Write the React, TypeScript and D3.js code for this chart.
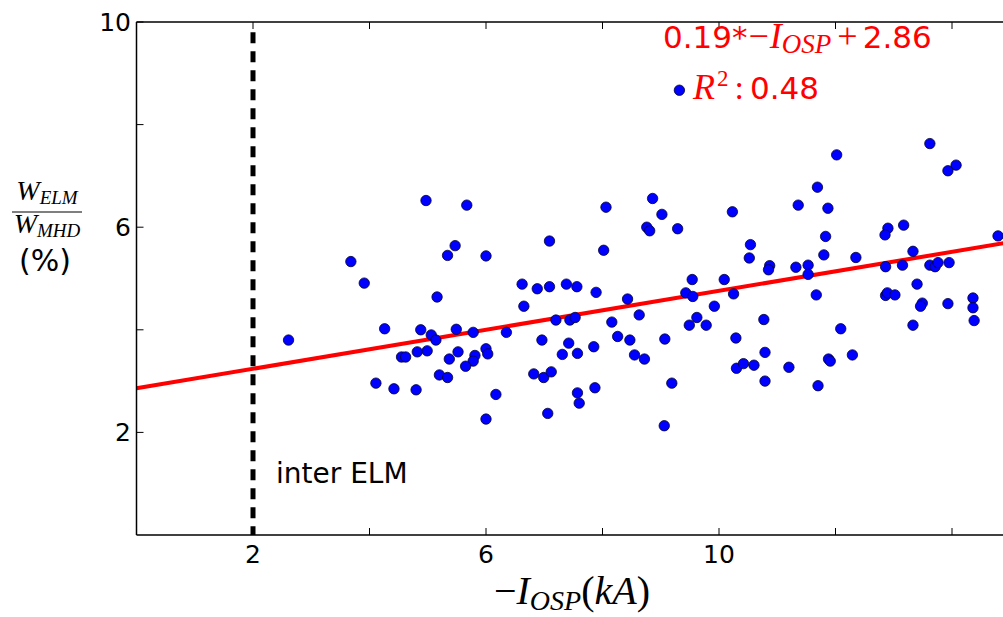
import React from "react";
import * as d3 from "d3";

const xVals = [
  2.61, 3.68, 3.91, 4.11, 4.26, 4.42, 4.55, 4.62, 4.80, 4.82, 4.88, 4.97, 4.99, 5.06, 5.14, 5.16,
  5.20, 5.34, 5.34, 5.47, 5.37, 5.49, 5.52, 5.67, 6.00, 7.09, 8.06, 8.02, 6.62, 6.88, 7.09, 7.38,
  7.56, 7.89, 6.65, 8.43, 8.63, 5.78, 6.35, 7.20, 7.44, 7.53, 8.16, 6.96, 7.42, 8.26, 8.47, 5.81,
  5.78, 6.00, 6.03, 5.65, 7.31, 7.57, 7.85, 8.55, 6.82, 6.99, 7.12, 6.17, 7.57, 7.60, 7.87, 6.00,
  7.06, 8.86, 9.02, 8.76, 8.81, 9.29, 10.23, 11.36, 11.69, 10.54, 10.52, 10.87, 10.85, 11.32, 11.53,
  11.53, 11.80, 9.54, 10.09, 9.43, 9.55, 10.25, 11.67, 9.92, 9.62, 9.49, 9.78, 10.77, 9.07, 10.29,
  8.72, 10.79, 10.30, 10.42, 10.60, 11.20, 10.79, 11.70, 9.19, 9.06, 13.62, 12.02, 14.07, 13.93,
  11.87, 12.90, 12.85, 13.17, 11.83, 14.79, 12.35, 13.33, 12.86, 13.15, 13.62, 13.71, 13.76, 13.95,
  13.40, 12.86, 12.89, 13.02, 13.49, 13.46, 13.93, 14.36, 14.36, 14.38, 12.09, 13.33, 11.88, 11.91,
  12.29, 9.32,
];
const yVals = [
  3.80, 5.33, 4.91, 2.96, 4.02, 2.85, 3.47, 3.47, 2.83, 3.57, 4.00, 6.52, 3.59, 3.90, 3.80, 4.64,
  3.12, 3.07, 5.45, 5.64, 3.43, 4.01, 3.57, 6.43, 5.44, 5.73, 6.39, 5.55, 4.89, 4.80, 4.84, 4.89,
  4.84, 4.73, 4.46, 4.60, 4.29, 3.95, 3.95, 4.19, 4.19, 4.24, 4.15, 3.80, 3.74, 3.87, 3.80, 3.50,
  3.39, 3.63, 3.53, 3.29, 3.52, 3.54, 3.67, 3.51, 3.14, 3.07, 3.18, 2.74, 2.77, 2.57, 2.87, 2.26,
  2.37, 6.56, 6.25, 6.00, 5.93, 5.97, 6.30, 6.43, 6.78, 5.66, 5.40, 5.25, 5.17, 5.22, 5.26,
  5.08, 5.46, 4.98, 4.98, 4.72, 4.65, 4.70, 4.68, 4.46, 4.24, 4.09, 4.09, 4.20, 3.82, 3.84,
  3.43, 3.56, 3.25, 3.34, 3.31, 3.27, 3.00, 2.91, 2.96, 2.13, 7.63, 7.41, 7.21, 7.10,
  6.37, 5.98, 5.85, 6.04, 5.82, 5.83, 5.41, 5.53, 5.23, 5.26, 5.26, 5.23, 5.31, 5.31,
  4.89, 4.67, 4.72, 4.68, 4.52, 4.46, 4.51, 4.62, 4.43, 4.18, 4.02, 4.09, 3.43, 3.39,
  3.51, 8.67,
];

const fitSlope = 0.19;
const fitIntercept = 2.86;
const fitX = [0, 15];
const thresholdX = 2;
const thresholdY = [0, 9.8];
const xTicks = [2, 4, 6, 8, 10, 12, 14];
const xTickLabels = [2, 6, 10];
const yTicks = [2, 4, 6, 8, 10];
const yTickLabels = [2, 6, 10];

const W = 1003;
const H = 617;
const left = 136.5;
const top = 22;
const bottom = 535;
const xScale = d3.scaleLinear().domain([0, 15]).range([left, left + 15 * 58.25]);
const yScale = d3.scaleLinear().domain([0, 10]).range([bottom, top]);

const sans = "DejaVu Sans";
const serif = "Liberation Serif";

export default function App() {
  const points = xVals.map((x, i) => ({ x, y: yVals[i] }));
  const fitLine = d3
    .line<number>()
    .x((d) => xScale(d))
    .y((d) => yScale(fitSlope * d + fitIntercept));
  const right = xScale(15);
  return (
    <svg
      width={W}
      height={H}
      style={{ position: "absolute", left: 0, top: 0, background: "#fff" }}
    >
      <defs>
        <clipPath id="plot">
          <rect x={left} y={top} width={right - left} height={bottom - top} />
        </clipPath>
      </defs>
      <rect x={0} y={0} width={W} height={H} fill="#fff" />
      <g clipPath="url(#plot)">
        <path d={fitLine(fitX) || ""} stroke="#ff0000" strokeWidth={4} fill="none" />
        {points.map((p, i) => (
          <circle
            key={i}
            cx={xScale(p.x)}
            cy={yScale(p.y)}
            r={5.2}
            fill="#0000ff"
            stroke="#000033"
            strokeWidth={0.8}
          />
        ))}
        <line
          x1={xScale(thresholdX)}
          x2={xScale(thresholdX)}
          y1={yScale(thresholdY[1])}
          y2={yScale(thresholdY[0])}
          stroke="#000"
          strokeWidth={5}
          strokeDasharray="11 8"
        />
      </g>
      {/* spines */}
      <line x1={left} x2={left} y1={top} y2={bottom} stroke="#000" strokeWidth={1.5} />
      <line x1={left} x2={right} y1={top} y2={top} stroke="#000" strokeWidth={1.5} />
      <line x1={left} x2={right} y1={bottom} y2={bottom} stroke="#000" strokeWidth={1.5} />
      {/* ticks */}
      {xTicks.map((t) => (
        <g key={"xt" + t}>
          <line x1={xScale(t)} x2={xScale(t)} y1={bottom} y2={bottom - 7} stroke="#000" strokeWidth={1} />
          <line x1={xScale(t)} x2={xScale(t)} y1={top} y2={top + 7} stroke="#000" strokeWidth={1} />
        </g>
      ))}
      {yTicks.map((t) => (
        <line key={"yt" + t} x1={left} x2={left + 7} y1={yScale(t)} y2={yScale(t)} stroke="#000" strokeWidth={1} />
      ))}
      {xTickLabels.map((t) => (
        <text key={"xl" + t} x={xScale(t)} y={563} textAnchor="middle" fontFamily={sans} fontSize={25}>
          {t}
        </text>
      ))}
      {yTickLabels.map((t) => (
        <text key={"yl" + t} x={131} y={yScale(t) + 9} textAnchor="end" fontFamily={sans} fontSize={25}>
          {t}
        </text>
      ))}
      {/* x label */}
      <text x={572} y={604} textAnchor="middle" fontFamily={serif} fontSize={40}>
        <tspan>−</tspan>
        <tspan fontStyle="italic">I</tspan>
        <tspan fontStyle="italic" fontSize={28} dy={6}>OSP</tspan>
        <tspan dy={-6}>(</tspan>
        <tspan fontStyle="italic">kA</tspan>
        <tspan>)</tspan>
      </text>
      {/* y label */}
      <text x={47} y={200} textAnchor="middle" fontFamily={serif} fontSize={28}>
        <tspan fontStyle="italic">W</tspan>
        <tspan fontStyle="italic" fontSize={19} dy={4}>ELM</tspan>
      </text>
      <line x1={12} x2={82} y1={212} y2={212} stroke="#000" strokeWidth={1.2} />
      <text x={47} y={233} textAnchor="middle" fontFamily={serif} fontSize={28}>
        <tspan fontStyle="italic">W</tspan>
        <tspan fontStyle="italic" fontSize={19} dy={4}>MHD</tspan>
      </text>
      <text x={45} y={271} textAnchor="middle" fontFamily={sans} fontSize={30}>
        (%)
      </text>
      {/* annotation */}
      <text x={276} y={483} fontFamily={sans} fontSize={28}>
        inter ELM
      </text>
      <text x={663} y={48} fill="#ff0000" fontFamily={sans} fontSize={31}>
        <tspan>0.19*</tspan>
        <tspan fontFamily={serif} fontSize={36} dx={1}>−</tspan>
        <tspan fontFamily={serif} fontSize={36} fontStyle="italic" dx={1}>I</tspan>
        <tspan fontFamily={serif} fontStyle="italic" fontSize={27} dy={5}>OSP</tspan>
        <tspan fontFamily={serif} fontSize={36} dy={-5} dx={6}>+</tspan>
        <tspan dx={5}>2.86</tspan>
      </text>
      <text x={693} y={99} fill="#ff0000" fontFamily={sans} fontSize={31}>
        <tspan fontFamily={serif} fontSize={36} fontStyle="italic">R</tspan>
        <tspan fontFamily={serif} fontSize={23} dy={-13} dx={2}>2</tspan>
        <tspan fontFamily={serif} fontSize={34} dy={13} dx={6}>:</tspan>
        <tspan dx={6}>0.48</tspan>
      </text>
    </svg>
  );
}
